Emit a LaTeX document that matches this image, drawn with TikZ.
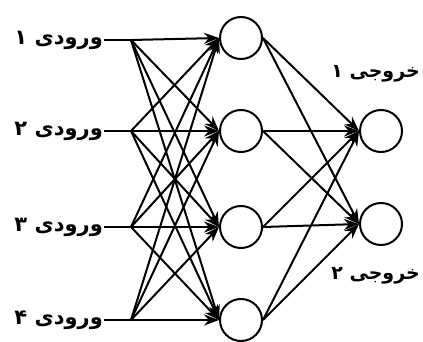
\documentclass[tikz,border=0pt]{standalone}
\usepackage{fontspec}
\newfontfamily\arabicfont[Script=Arabic]{DejaVu Sans}
\TeXXeTstate=1
\usetikzlibrary{arrows.meta}
\begin{document}
\begin{tikzpicture}[x=1pt,y=-1pt,
  neuron/.style={draw,circle,line width=2pt,minimum size=42pt,inner sep=0pt},
  conn/.style={line width=2pt,-{Stealth[length=15pt,width=11pt]}},
  wire/.style={line width=2pt},
  lbl/.style={font=\arabicfont\bfseries\fontsize{21}{21}\selectfont,inner sep=1pt}]
\useasboundingbox (0,0) rectangle (423,342);
% hidden neurons
\node[neuron] (h1) at (241,38) {};
\node[neuron] (h2) at (241,131) {};
\node[neuron] (h3) at (241,227) {};
\node[neuron] (h4) at (241,320) {};
% output neurons
\node[neuron] (o1) at (381,131) {};
\node[neuron] (o2) at (381,224) {};
% input labels
\node[lbl,anchor=east] (i1) at (104,40) {\beginR ورودی ۱\endR};
\node[lbl,anchor=east] (i2) at (104,131) {\beginR ورودی ۲\endR};
\node[lbl,anchor=east] (i3) at (104,227) {\beginR ورودی ۳\endR};
\node[lbl,anchor=east] (i4) at (104,320) {\beginR ورودی ۴\endR};
% output labels
\node[lbl,anchor=east,font=\arabicfont\bfseries\fontsize{19}{19}\selectfont] (l1) at (421,74) {\beginR خروجی ۱\endR};
\node[lbl,anchor=east,font=\arabicfont\bfseries\fontsize{19}{19}\selectfont] (l2) at (421,276) {\beginR خروجی ۲\endR};
% branch points
\coordinate (b1) at (131,40);
\coordinate (b2) at (131,131);
\coordinate (b3) at (131,227);
\coordinate (b4) at (131,320);
% input lines
\draw[wire] (i1.east) -- (b1);
\draw[wire] (i2.east) -- (b2);
\draw[wire] (i3.east) -- (b3);
\draw[wire] (i4.east) -- (b4);
\foreach \i in {1,2,3,4}{
  \foreach \j in {1,2,3,4}{
    \draw[conn] (b\i) -- (h\j.west);
  }
}
\foreach \j in {1,2,3,4}{
  \draw[conn] (h\j.east) -- (o1.west);
  \draw[conn] (h\j.east) -- (o2.west);
}
\end{tikzpicture}
\end{document}
